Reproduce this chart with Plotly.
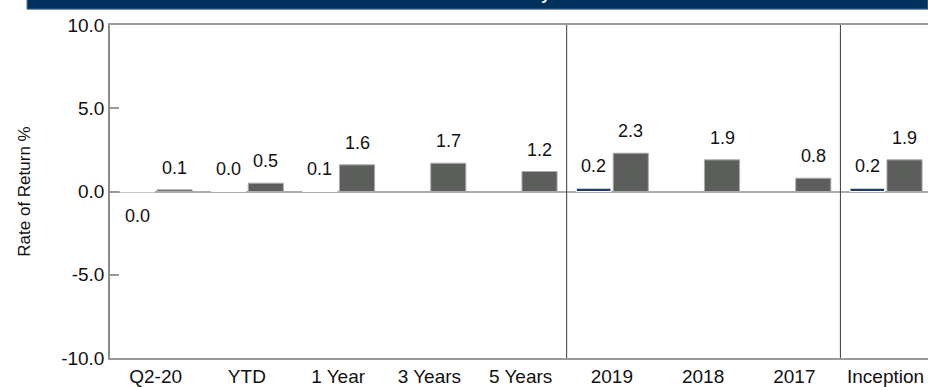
import plotly.graph_objects as go

# 기간별 수익률 (포트폴리오 / 벤치마크)
categories = ["Q2-20", "YTD", "1 Year", "3 Years", "5 Years", "2019", "2018", "2017", "Inception"]
portfolio = [-0.02, 0.02, 0.06, None, None, 0.2, None, None, 0.2]
benchmark = [0.1, 0.5, 1.6, 1.7, 1.2, 2.3, 1.9, 0.8, 1.9]
y_ticks = [-10, -5, 0, 5, 10]
separators_after = ["5 Years", "2017"]   # 구분선 위치
title_text = "Performance Summary"

NAVY = "#1F3D66"
GRAY = "#5C5E5B"
FONT = "Liberation Sans, Arial, sans-serif"

xs = list(range(len(categories)))

fig = go.Figure()
fig.add_trace(go.Bar(
    x=xs, y=portfolio, offset=-0.39, width=0.38,
    marker=dict(color=NAVY, line=dict(color="white", width=1)),
    showlegend=False, hoverinfo="skip",
))
fig.add_trace(go.Bar(
    x=xs, y=benchmark, offset=0.015, width=0.385,
    marker=dict(color=GRAY, line=dict(color="#ABABAB", width=1)),
    showlegend=False, hoverinfo="skip",
))


def label(v):
    return f"{v:.1f}".replace("-0.0", "0.0")


# 값 라벨 (막대 위/아래)
for vals, dx in [(portfolio, -0.2), (benchmark, 0.2075)]:
    for i, v in enumerate(vals):
        if v is None:
            continue
        fig.add_annotation(
            x=i + dx, y=v, text=label(v), showarrow=False,
            yshift=22 if v >= 0 else -24,
            font=dict(family=FONT, size=18, color="#111111"),
        )

# 구분선
for name in separators_after:
    i = categories.index(name)
    fig.add_shape(type="line", x0=i + 0.505, x1=i + 0.505, y0=0, y1=1,
                  xref="x", yref="paper", line=dict(color="#3A3A3A", width=1))

# 상단 헤더 바 (잘려 있음)
plot_h = 387 - 25 - 26
plot_w = 928 - 110
fig.add_shape(type="rect", xref="paper", yref="paper",
              x0=(27 - 110) / plot_w, x1=1.0,
              y0=1 + 16 / plot_h, y1=1 + 40 / plot_h,
              fillcolor="#00305E", line=dict(color="#5A7391", width=1))
fig.add_annotation(
    xref="paper", yref="paper", x=(552 - 110) / plot_w, y=1 + 20 / plot_h,
    xanchor="right", yanchor="bottom", showarrow=False,
    text="<b>" + title_text + "</b>",
    font=dict(family=FONT, size=16, color="white"),
)

fig.update_layout(
    width=928, height=387,
    margin=dict(l=110, r=0, t=25, b=26),
    plot_bgcolor="white", paper_bgcolor="white",
    barmode="overlay",
    font=dict(family=FONT, color="#111111"),
)
fig.update_xaxes(
    range=[-0.5, 8.465],
    tickvals=xs, ticktext=categories,
    tickfont=dict(size=19),
    showgrid=False, zeroline=False,
    showline=True, mirror=True, linecolor="#9A9A9A", linewidth=2,
    ticks="",
)
fig.update_yaxes(
    range=[-10, 10],
    tickvals=y_ticks, ticktext=[f"{t:.1f}" for t in y_ticks],
    tickfont=dict(size=19),
    ticks="inside", ticklen=9, tickcolor="#999999", tickwidth=1.5,
    showgrid=False,
    zeroline=True, zerolinecolor="#ABABAB", zerolinewidth=1.5,
    showline=True, linecolor="#8C8C8C", linewidth=1.5,
    title=dict(text="Rate of Return %", font=dict(size=17), standoff=26),
)

# 페이지 여백 제거
fig.write_html("out.html", config={"displayModeBar": False},
               post_script="document.body.style.margin = '0';")
